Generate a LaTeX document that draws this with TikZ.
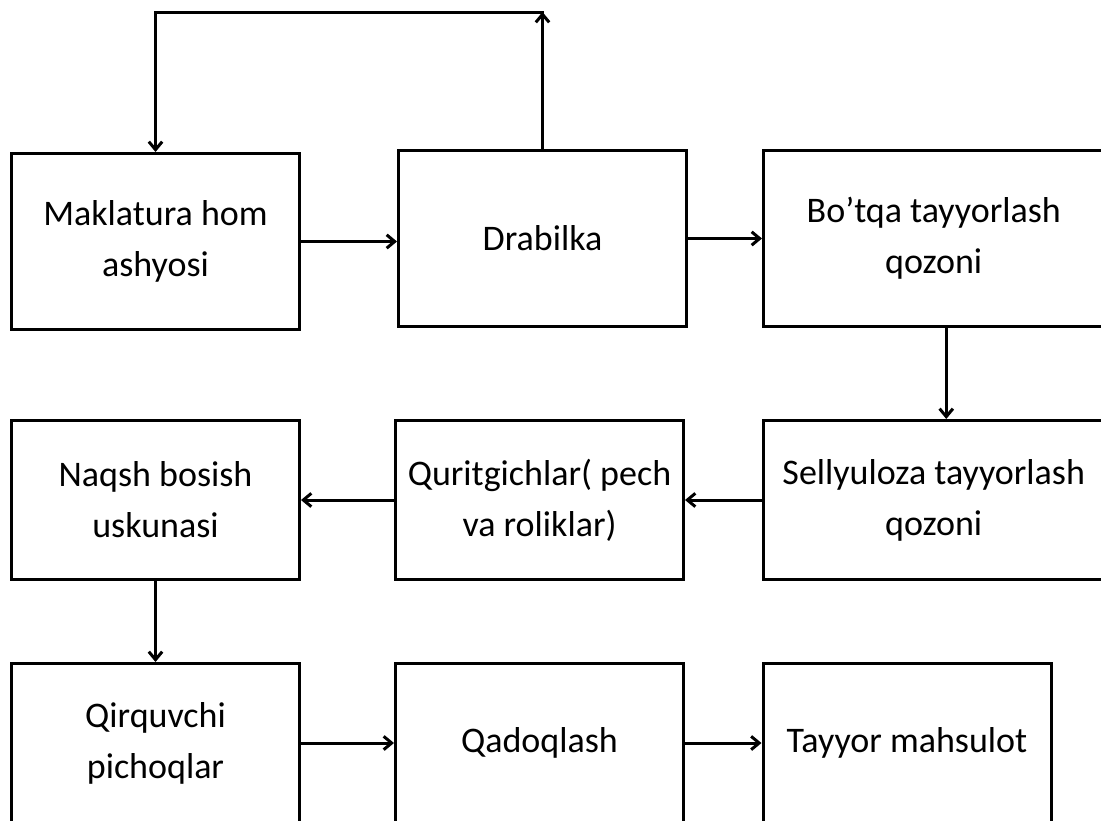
\documentclass[tikz,border=0pt]{standalone}
\usepackage{fontspec}
\setmainfont{Carlito}
\usetikzlibrary{arrows.meta,calc}
\begin{document}
\begin{tikzpicture}[x=0.75pt,y=-0.75pt]
\tikzset{
  box/.style={draw, line width=2.25pt, inner sep=0pt, align=center,
    minimum width=288*0.75pt, minimum height=176*0.75pt,
    font=\fontsize{27}{38.25}\selectfont},
  wide/.style={minimum width=340.5*0.75pt},
  low/.style={minimum height=159*0.75pt},
  flow/.style={line width=2.25pt, -{Straight Barb[length=6pt,width=10pt]}}
}
\useasboundingbox (0,0) rectangle (1101,821);
% row 1
\node[box] (A) at (155.5,241.5) {Maklatura hom\\ashyosi};
\node[box] (B) at (542.5,238.5) {Drabilka};
\node[box,wide] (C) at (933.75,238.5) {Bo’tqa tayyorlash\\qozoni};
% row 2
\node[box,low] (D) at (155.5,500) {Naqsh bosish\\uskunasi};
\node[box,low] (E) at (539.5,500) {Quritgichlar( pech\\va roliklar)};
\node[box,low,wide] (F) at (933.75,500) {Sellyuloza tayyorlash\\qozoni};
% row 3
\node[box,low] (G) at (155.5,743) {Qirquvchi\\pichoqlar};
\node[box,low] (H) at (539.5,743) {Qadoqlash};
\node[box,low] (I) at (907,743) {Tayyor mahsulot};
% connectors
\draw[flow] (A.east) -- (A.east -| B.west);
\draw[flow] (B.east) -- (B.east -| C.west);
\coordinate (cf) at ($(C.south)+(12.5,0)$);
\draw[flow] (cf) -- (cf |- F.north);
\draw[flow] (F.west) -- (F.west -| E.east);
\draw[flow] (E.west) -- (E.west -| D.east);
\draw[flow] (D.south) -- (G.north);
\draw[flow] (G.east) -- (G.east -| H.west);
\draw[flow] (H.east) -- (H.east -| I.west);
% feedback loop
\coordinate (top) at (0,12);
\draw[flow] (B.north) -- (B.north |- top);
\draw[flow, line cap=rect] (B.north |- top) -| (A.north);
\end{tikzpicture}
\end{document}
